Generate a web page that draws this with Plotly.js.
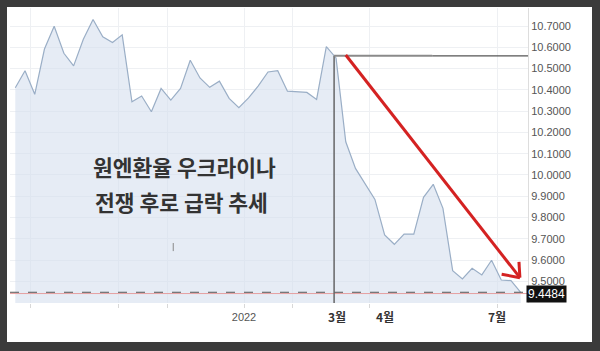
<!DOCTYPE html>
<html>
<head>
<meta charset="utf-8">
<script src="https://cdn.plot.ly/plotly-3.0.1.min.js"></script>
<style>
  html, body { margin: 0; padding: 0; background: #3b3b3b; width: 600px; height: 351px; overflow: hidden; }
  #chart { position: absolute; left: 7px; top: 7px; width: 585px; height: 335px; background: #ffffff; }
</style>
</head>
<body>
<div id="chart"></div>
<script>
// Weekly rate values
const rateValues = [10.410, 10.490, 10.379, 10.592, 10.699, 10.572, 10.513, 10.638, 10.731, 10.650,
  10.623, 10.659, 10.344, 10.371, 10.297, 10.407, 10.352, 10.407, 10.539, 10.456,
  10.412, 10.441, 10.360, 10.316, 10.362, 10.419, 10.484, 10.490, 10.394, 10.391,
  10.388, 10.355, 10.603, 10.550, 10.156, 10.031, 9.961, 9.885, 9.718, 9.674,
  9.722, 9.722, 9.895, 9.956, 9.843, 9.550, 9.511, 9.561, 9.530, 9.599,
  9.506, 9.503, 9.4484];
const weekIndex = rateValues.map((_, i) => i);
const lastValue = 9.4484;

// y-axis tick values
const yTicks = [9.5, 9.6, 9.7, 9.8, 9.9, 10.0, 10.1, 10.2, 10.3, 10.4, 10.5, 10.6, 10.7];
const yTickLabels = ['9.5000', '9.6000', '9.7000', '9.8000', '9.9000', '10.0000', '10.1000',
  '10.2000', '10.3000', '10.4000', '10.5000', '10.6000', '10.7000'];

// x-axis gridline positions (week index) and their labels
const gridWeeks = [1.615, 10.57, 15.61, 23.53, 28.47, 36.49, 49.66];
const gridLabels = ['', '', '', '2022', '', '', ''];

// Month labels added on the chart
const monthWeeks = [33.1, 38.05, 49.55];
const monthLabels = ['3월', '4월', '7월'];

// Annotation text
const titleLines = ['원엔환율 우크라이나', '전쟁 후로 급락 추세'];

// Reference lines: start-of-war marker and level
const markerWeek = 32.8;
const markerLevel = 10.56;

// Trend arrow (start, tip, wings)
const arrowStart = [34.0, 10.564];
const arrowTip = [51.92, 9.517];
const arrowWing1 = [51.82, 9.591];
const arrowWing2 = [50.04, 9.533];

const yMin = 9.398, yMax = 10.785;
const xMin = -0.545, xMax = 52.75;

const trace = {
  x: weekIndex,
  y: rateValues,
  type: 'scatter',
  mode: 'lines',
  line: { color: '#9aaec6', width: 1.2 },
  fill: 'tozeroy',
  fillcolor: 'rgba(214,224,238,0.6)',
  hoverinfo: 'skip'
};

const shapes = [
  { type: 'line', xref: 'x', yref: 'y', x0: xMin, x1: xMax, y0: lastValue - 0.006, y1: lastValue - 0.006,
    line: { color: '#e5a0a0', width: 1 } },
  { type: 'line', xref: 'x', yref: 'y', x0: xMin, x1: xMax, y0: lastValue, y1: lastValue,
    line: { color: '#555555', width: 1, dash: 'dash' } },
  { type: 'line', xref: 'x', yref: 'y', x0: markerWeek, x1: markerWeek, y0: yMin, y1: markerLevel,
    line: { color: '#666666', width: 1.5 } },
  { type: 'line', xref: 'x', yref: 'y', x0: markerWeek, x1: 42.9, y0: markerLevel, y1: markerLevel,
    line: { color: '#8a8a8a', width: 2 } },
  { type: 'line', xref: 'x', yref: 'y', x0: 42.9, x1: xMax, y0: markerLevel, y1: markerLevel,
    line: { color: '#555555', width: 1.2 } },
  { type: 'line', xref: 'x', yref: 'y', x0: 16.25, x1: 16.25, y0: 9.642, y1: 9.680,
    line: { color: '#888888', width: 1 } },
  { type: 'line', xref: 'x', yref: 'y', x0: arrowStart[0], y0: arrowStart[1], x1: arrowTip[0], y1: arrowTip[1],
    line: { color: '#d42222', width: 3 } },
  { type: 'line', xref: 'x', yref: 'y', x0: arrowWing1[0], y0: arrowWing1[1], x1: arrowTip[0], y1: arrowTip[1],
    line: { color: '#d42222', width: 3 } },
  { type: 'line', xref: 'x', yref: 'y', x0: arrowWing2[0], y0: arrowWing2[1], x1: arrowTip[0], y1: arrowTip[1],
    line: { color: '#d42222', width: 3 } }
];

const annotations = [
  { xref: 'x', yref: 'y', x: 17.4, y: 10.040, text: '<b>' + titleLines[0] + '</b>', showarrow: false,
    font: { family: 'Noto Sans CJK KR', size: 21.5, color: '#333333' }, xanchor: 'center', yanchor: 'middle' },
  { xref: 'x', yref: 'y', x: 17.1, y: 9.875, text: '<b>' + titleLines[1] + '</b>', showarrow: false,
    font: { family: 'Noto Sans CJK KR', size: 21.5, color: '#333333' }, xanchor: 'center', yanchor: 'middle' },
  { xref: 'paper', yref: 'y', x: 1, xshift: -2, yshift: -1.5, y: lastValue, text: '9.4484', showarrow: false,
    xanchor: 'left', yanchor: 'middle', bgcolor: '#111111', borderpad: 1,
    font: { family: 'Liberation Sans, Arial', size: 12, color: '#ffffff' } }
];
monthLabels.forEach((m, k) => {
  annotations.push({ xref: 'x', yref: 'paper', x: monthWeeks[k], y: 0, yshift: -13,
    text: '<b>' + m + '</b>', showarrow: false, xanchor: 'center', yanchor: 'middle',
    font: { family: 'Noto Sans CJK KR', size: 12, color: '#333333' } });
});

const layout = {
  width: 585, height: 335,
  margin: { l: 3, r: 64, t: 1, b: 39 },
  paper_bgcolor: '#ffffff',
  plot_bgcolor: '#ffffff',
  showlegend: false,
  xaxis: {
    range: [xMin, xMax],
    tickmode: 'array', tickvals: gridWeeks, ticktext: gridLabels,
    showgrid: true, gridcolor: '#eef0f3', gridwidth: 1,
    zeroline: false, showline: false,
    ticks: 'outside', ticklen: 4, tickcolor: '#d8d8d8',
    tickfont: { family: 'Liberation Sans, Arial', size: 11, color: '#555555' }
  },
  yaxis: {
    side: 'right',
    range: [yMin, yMax],
    tickmode: 'array', tickvals: yTicks, ticktext: yTickLabels,
    showgrid: true, gridcolor: '#eef0f3', gridwidth: 1,
    zeroline: false, showline: true, linecolor: '#dddddd', linewidth: 1,
    ticks: '',
    tickfont: { family: 'Liberation Sans, Arial', size: 11, color: '#555555' }
  },
  shapes: shapes,
  annotations: annotations
};

Plotly.newPlot('chart', [trace], layout, { staticPlot: true, displayModeBar: false });
</script>
</body>
</html>
